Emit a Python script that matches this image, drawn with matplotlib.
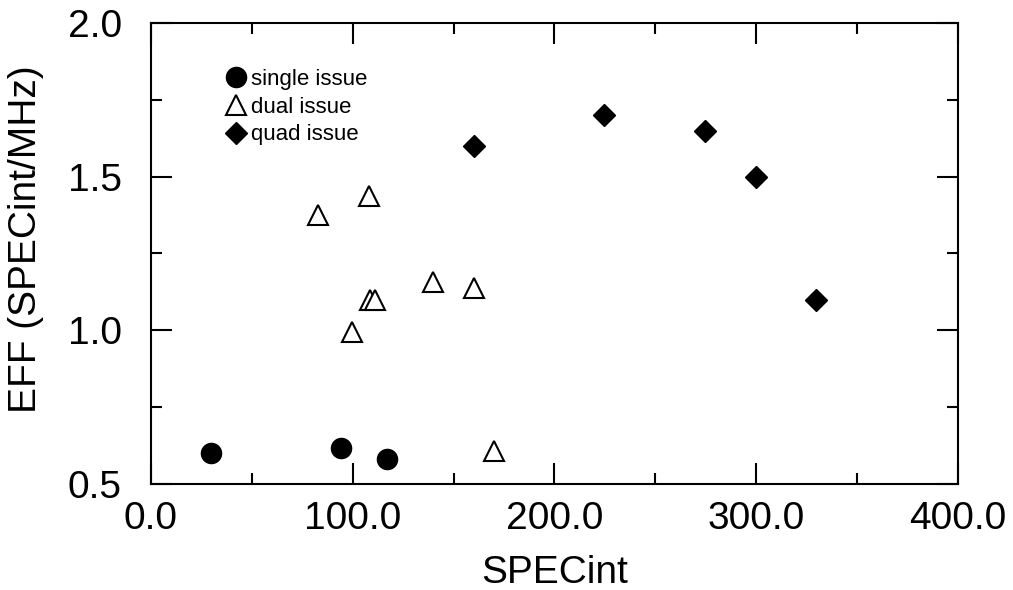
import matplotlib
matplotlib.use('Agg')
import matplotlib.pyplot as plt
from matplotlib.ticker import MultipleLocator, FormatStrFormatter

plt.rcParams['font.family'] = ['Liberation Sans', 'DejaVu Sans']

# single issue machines
single_x = [29.7, 94.0, 117.0]
single_y = [0.60, 0.617, 0.58]

# dual issue machines
dual_x = [83.0, 108.0, 99.6, 108.5, 111.0, 140.0, 160.0, 170.0]
dual_y = [1.375, 1.437, 0.995, 1.10, 1.10, 1.157, 1.138, 0.607]

# quad issue machines
quad_x = [160.0, 224.5, 274.6, 300.0, 329.6]
quad_y = [1.60, 1.70, 1.649, 1.499, 1.099]

fig = plt.figure(figsize=(10.13, 5.9), dpi=100)
ax = fig.add_axes([0.149, 0.1797, 0.7967, 0.7813])

ax.plot(single_x, single_y, 'o', color='black', markersize=14.5, label='single issue')
ax.plot(dual_x, dual_y, '^', markerfacecolor='white', markeredgecolor='black',
        markeredgewidth=1.5, markersize=14, label='dual issue')
ax.plot(quad_x, quad_y, 'D', color='black', markersize=11.5, label='quad issue')

ax.set_xlim(0, 400)
ax.set_ylim(0.5, 2.0)
ax.xaxis.set_major_locator(MultipleLocator(100))
ax.xaxis.set_minor_locator(MultipleLocator(50))
ax.yaxis.set_major_locator(MultipleLocator(0.5))
ax.yaxis.set_minor_locator(MultipleLocator(0.25))
ax.xaxis.set_major_formatter(FormatStrFormatter('%.1f'))
ax.yaxis.set_major_formatter(FormatStrFormatter('%.1f'))

ax.tick_params(which='both', direction='in', top=True, right=True, width=1.5, labelsize=28)
ax.tick_params(which='major', length=15)
ax.tick_params(which='minor', length=8)
ax.tick_params(axis='x', which='major', pad=12)
ax.tick_params(axis='y', which='major', pad=21)
for s in ax.spines.values():
    s.set_linewidth(1.5)

ax.set_xlabel('SPECint', fontsize=28, labelpad=13)
ax.set_ylabel('EFF (SPECint/MHz)', fontsize=28)
ax.yaxis.set_label_coords(-0.133, 0.531)

ax.legend(loc='upper left', bbox_to_anchor=(0.095, 0.90), frameon=False, fontsize=16,
          handlelength=0.8, handletextpad=0.25, labelspacing=0.3, borderpad=0,
          borderaxespad=0, numpoints=1, markerscale=1.0)

fig.savefig('out.png', dpi=100)
